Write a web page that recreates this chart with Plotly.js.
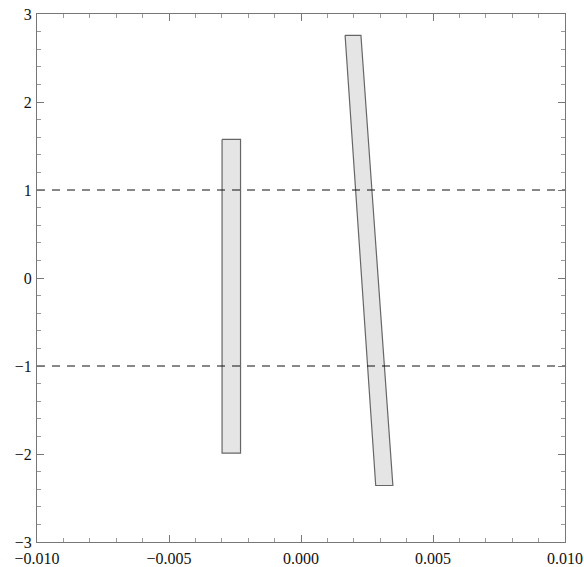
<!DOCTYPE html>
<html><head><meta charset="utf-8">
<script src="https://cdn.plot.ly/plotly-3.0.1.min.js"></script>
<style>body{margin:0;background:#fff}#c{width:584px;height:567px}</style>
</head><body><div id="c"></div>
<script>
const leftBoxX = [-0.00299, -0.00229, -0.00229, -0.00299, -0.00299];
const leftBoxY = [1.575, 1.575, -1.99, -1.99, 1.575];
const rightBoxX = [0.00167, 0.00227, 0.00348, 0.00283, 0.00167];
const rightBoxY = [2.758, 2.758, -2.358, -2.358, 2.758];
const refLineX = [-0.01, 0.01];
const refLineUpperY = [1, 1];
const refLineLowerY = [-1, -1];
const xTickVals = [-0.01, -0.005, 0, 0.005, 0.01];
const xTickText = ['\u22120.010', '\u22120.005', '0.000', '0.005', '0.010'];
const yTickVals = [-3, -2, -1, 0, 1, 2, 3];
const yTickText = ['\u22123', '\u22122', '\u22121', '0', '1', '2', '3'];

const boxStyle = {mode:'lines', fill:'toself', fillcolor:'#e4e5e4', line:{color:'#666', width:1.2}, hoverinfo:'skip', showlegend:false};
const dashStyle = {mode:'lines', line:{color:'#111', width:1, dash:'8px,7px'}, hoverinfo:'skip', showlegend:false};
const data = [
  Object.assign({x:leftBoxX, y:leftBoxY, type:'scatter'}, boxStyle),
  Object.assign({x:rightBoxX, y:rightBoxY, type:'scatter'}, boxStyle),
  Object.assign({x:refLineX, y:refLineUpperY, type:'scatter'}, dashStyle),
  Object.assign({x:refLineX, y:refLineLowerY, type:'scatter'}, dashStyle)
];
const font = {family:'Liberation Serif, Times New Roman, serif', size:16, color:'#111'};
const layout = {
  width:584, height:567,
  margin:{l:37, r:19, t:14, b:25},
  paper_bgcolor:'#fff', plot_bgcolor:'#fff',
  font:font,
  xaxis:{range:[-0.01,0.01], tickvals:xTickVals, ticktext:xTickText, ticks:'inside', ticklen:7, tickcolor:'#777', tickwidth:1,
    showline:true, linecolor:'#777', linewidth:1, mirror:'ticks', showgrid:false, zeroline:false, ticklabelstandoff:2,
    tickfont:font,
    minor:{dtick:0.001, tick0:0, ticks:'inside', ticklen:4, tickcolor:'#999', showgrid:false}},
  yaxis:{range:[-3,3], tickvals:yTickVals, ticktext:yTickText, ticks:'inside', ticklen:7, tickcolor:'#777', tickwidth:1,
    showline:true, linecolor:'#777', linewidth:1, mirror:'ticks', showgrid:false, zeroline:false, ticklabelstandoff:1,
    tickfont:font,
    minor:{dtick:0.2, tick0:0, ticks:'inside', ticklen:4, tickcolor:'#999', showgrid:false}}
};
Plotly.newPlot('c', data, layout, {staticPlot:true});
</script></body></html>
